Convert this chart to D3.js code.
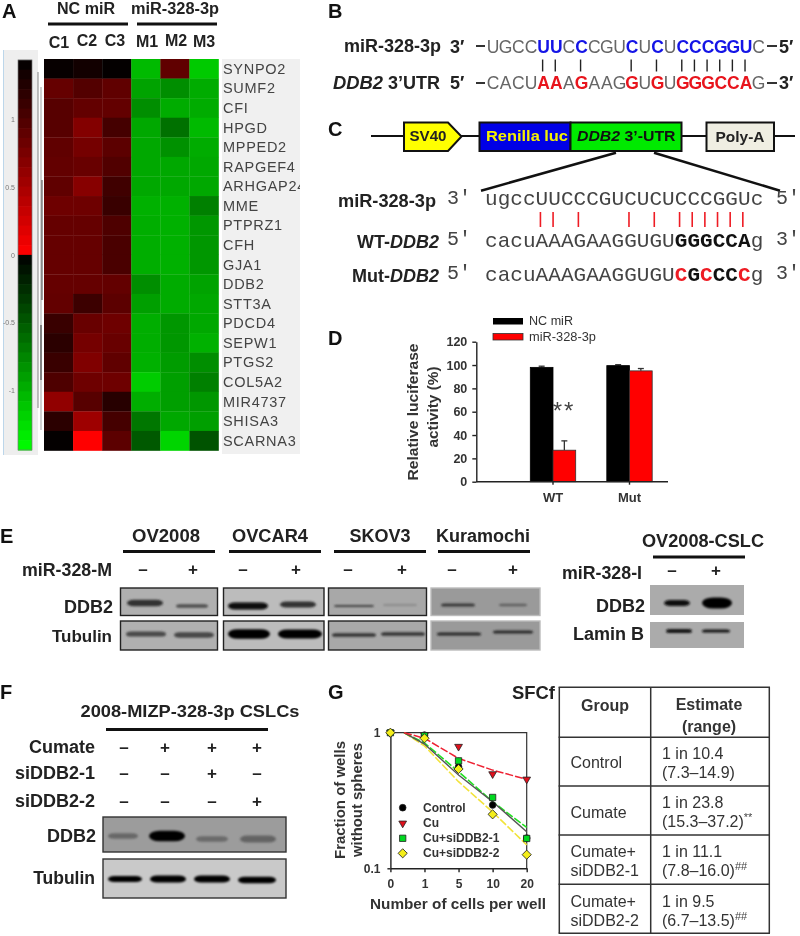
<!DOCTYPE html>
<html><head><meta charset="utf-8">
<style>html,body{margin:0;padding:0;background:#fff}svg{display:block;filter:blur(.45px)}text{font-family:"Liberation Sans",Arial,sans-serif}</style>
<script src="https://cdn.jsdelivr.net/npm/d3@7/dist/d3.min.js"></script>
</head><body>
<script>
// ---------- DATA ----------
const genes=["SYNPO2","SUMF2","CFI","HPGD","MPPED2","RAPGEF4","ARHGAP24","MME","PTPRZ1","CFH","GJA1","DDB2","STT3A","PDCD4","SEPW1","PTGS2","COL5A2","MIR4737","SHISA3","SCARNA3"];
const samples=["C1","C2","C3","M1","M2","M3"];
const heatC1=[1.4,.87,.95,.95,.9,.88,.9,.82,.87,.87,.87,.87,.88,1.12,1.2,1.12,1.0,.62,1.2,1.42];
const heatC2=[1.34,.97,.88,.7,.78,.85,.68,.82,.87,.87,.87,.87,1.1,.85,.78,.72,.82,.95,.55,0];
const heatC3=[1.42,.9,.88,1.05,.92,.98,1.08,1.12,1.0,1.02,1.02,.88,.92,.82,.85,.9,.82,1.22,1.05,.92];
const heatM1=[-1.05,-.92,-.8,-.95,-.95,-.95,-.95,-1.0,-.98,-.98,-.98,-.8,-.9,-.98,-.98,-1.0,-1.15,-.98,-.67,-.5];
const heatM2=[.9,-.8,-.97,-.64,-.82,-.95,-.95,-1.0,-1.0,-1.0,-1.0,-.97,-.97,-.85,-.85,-.88,-.9,-.9,-.95,-1.2];
const heatM3=[-1.14,-.97,-.97,-1.05,-.97,-.95,-.95,-.72,-.85,-.85,-.85,-.92,-.95,-.95,-1.0,-.8,-.72,-.85,-.9,-.47];
const heatTicks=[1,.5,0,-.5,-1];

const seqMirB="UGCCUUCCCGUCUCUCCCGGUC";
const seqUtrB="CACUAAAGAAGGUGUGGGCCAG";
const seqMirC="ugccUUCCCGUCUCUCCCGGUc";
const seqWtC ="cacuAAAGAAGGUGUGGGCCAg";
const seqMutC="cacuAAAGAAGGUGUCGCCCCg";
const pairedBases=[4,5,7,11,13,15,16,17,18,19,20];
const wtBold=[15,16,17,18,19,20];
const mutRed=[15,17,20];
const mutBold=[16,18,19];

const lucCats=["WT","Mut"];
const lucSeries=["NC miR","miR-328-3p"];
const lucNC=[98,99.5];
const lucMir=[27,95];
const lucNCErr=[1,.8];
const lucMirErr=[8,2];
const lucTicks=[0,20,40,60,80,100,120];

const cellLines=["OV2008","OVCAR4","SKOV3","Kuramochi"];
const mirMSigns=["–","+"];
const ddb2Bands=[[.72,.55],[.95,.72],[.62,.18],[.68,.45]];
const tubBands=[[.58,.6],[1,1],[.72,.72],[.8,.78]];
const cslcDDB2=[.95,1];
const cslcLamin=[.9,.9];

const fConds=["Cumate","siDDB2-1","siDDB2-2"];
const fCumate=["–","+","+","+"];
const fSi1=["–","–","+","–"];
const fSi2=["–","–","–","+"];
const fDDB2=[.4,1,.38,.42];
const fTub=[1,1,1,1];

const cellDose=["0","1","5","10","20"];
const doseIdx=[0,1,2,3,4];
const fitIdx=[.4,1,2,3,4];
const ctrlPts=[1,.96,.56,.293,.167];
const cuPts=[1,.96,.79,.496,.453];
const si1Pts=[1,.95,.62,.333,.166];
const si2Pts=[1,.91,.54,.25,.126];
const ctrlFit=[1,.825,.487,.31,.186];
const cuFit=[1,.91,.646,.53,.453];
const si1Fit=[1,.84,.516,.31,.2];
const si2Fit=[1,.8,.435,.26,.149];
const gLegend=["Control","Cu","Cu+siDDB2-1","Cu+siDDB2-2"];

const tblGroups=[["Control"],["Cumate"],["Cumate+","siDDB2-1"],["Cumate+","siDDB2-2"]];
const tblEst=["1 in 10.4","1 in 23.8","1 in 11.1","1 in 9.5"];
const tblRange=["(7.3–14.9)","(15.3–37.2)","(7.8–16.0)","(6.7–13.5)"];
const tblSup=["","**","##","##"];

// ---------- HELPERS ----------
const svg=d3.select("body").append("svg").attr("width",800).attr("height",936).attr("viewBox","0 0 800 936");
const defs=svg.append("defs");
defs.append("filter").attr("id","b08").attr("x","-30%").attr("y","-150%").attr("width","160%").attr("height","400%").append("feGaussianBlur").attr("stdDeviation",.9);
defs.append("clipPath").attr("id","geneClip").append("rect").attr("x",222).attr("y",55).attr("width",78).attr("height",400);
function T(x,y,s,o={}){
  const t=svg.append("text").attr("x",x).attr("y",y).attr("dominant-baseline","central")
    .attr("text-anchor",o.a||"start").attr("font-size",o.s||14).attr("font-weight",o.w||"bold")
    .attr("fill",o.c||"#222").attr("font-style",o.i||null).text(s);
  if(o.ls)t.attr("letter-spacing",o.ls);
  if(o.f)t.style("font-family",o.f);
  if(o.len)t.attr("textLength",o.len).attr("lengthAdjust","spacingAndGlyphs");
  if(o.r)t.attr("transform",`rotate(${o.r} ${x} ${y})`);
  return t;
}
function L(x1,y1,x2,y2,c="#111",w=2){svg.append("line").attr("x1",x1).attr("y1",y1).attr("x2",x2).attr("y2",y2).attr("stroke",c).attr("stroke-width",w);}
function label(x,y,s){T(x,y,s,{s:20,c:"#111"});}

// ---------- A: heatmap ----------
label(2,11,"A");
T(86,8,"NC miR",{a:"middle",s:16,len:58});T(175,8,"miR-328-3p",{a:"middle",s:16,len:88});
L(48,24,128,24,"#111",3);L(137,24,217,24,"#111",3);
const smpY=[42,40,40,41,40,41];
const smpLX=[59,87,115,147,176,204];
samples.forEach((s,i)=>T(smpLX[i],smpY[i],s,{a:"middle",s:16}));
const hx=d3.scaleBand().domain(samples).range([44,218.5]);
const hy=d3.scaleBand().domain(genes).range([59,450.5]);
const hBar=d3.scaleLinear().domain([1.44,-1.44]).range([60,450]);
const hRed=d3.scaleLinear().domain([0,1.44]).range(["#ff0000","#000000"]);
const hGreen=d3.scaleLinear().domain([-1.44,0]).range(["#00ff00","#000000"]);
const hColor=v=>v>=0?hRed(v):hGreen(v);
svg.append("rect").attr("x",4).attr("y",50).attr("width",34).attr("height",405).attr("fill","#eeeeee");
L(3.5,50,3.5,455,"#bcd6ea",1);
const barSteps=d3.range(0,40).map(i=>1.44-(i+.5)*2.88/40);
svg.append("g").selectAll("rect").data(barSteps).join("rect")
  .attr("x",18).attr("width",14).attr("y",d=>hBar(d)-5).attr("height",10.4).attr("fill",hColor);
svg.append("rect").attr("x",18).attr("y",60).attr("width",14).attr("height",390).attr("fill","none").attr("stroke","#777").attr("stroke-width",.7);
heatTicks.forEach(v=>T(15,hBar(v),String(v),{a:"end",s:7,w:"normal",c:"#777"}));
[[38,72,408,"#777"],[41,87,430,"#999"],[42,180,300,"#333"],[41,325,380,"#222"]].forEach(([x,a,b,c])=>L(x,a,x,b,c,.9));
svg.append("rect").attr("x",222).attr("y",59).attr("width",78).attr("height",395).attr("fill","#f0f0f0");
[heatC1,heatC2,heatC3,heatM1,heatM2,heatM3].forEach((col,j)=>{
  svg.append("g").selectAll("rect").data(col).join("rect")
   .attr("x",hx(samples[j])).attr("width",hx.bandwidth()+.3)
   .attr("y",(d,i)=>hy(genes[i])).attr("height",hy.bandwidth()+.3).attr("fill",hColor);
});
svg.append("g").attr("clip-path","url(#geneClip)").selectAll("text").data(genes).join("text")
  .attr("x",223).attr("y",g=>hy(g)+hy.bandwidth()/2).attr("dominant-baseline","central")
  .attr("font-size",14.5).attr("fill","#444").attr("letter-spacing",.7).text(g=>g);

// ---------- B ----------
label(328,11,"B");
const PITCH=12.65;
function seq(x0,y,str,styleFn,font,size){
  svg.append("g").selectAll("text").data(str.split("")).join("text")
   .attr("x",(d,i)=>x0+PITCH*(i+.5)).attr("y",y).attr("text-anchor","middle").attr("dominant-baseline","central")
   .attr("font-size",size).style("font-family",font)
   .each(function(d,i){const st=styleFn(i);d3.select(this).attr("fill",st[0]).attr("font-weight",st[1]);})
   .text(d=>d);
}
const SANS='"Liberation Sans"';
const MONO2='"Liberation Mono"';
T(441,46,"miR-328-3p",{a:"end",s:18,len:97});
T(450,47,"3′",{s:18,c:"#222"});L(476,46,485,46,"#333",2);
seq(486.7,47,seqMirB,i=>pairedBases.includes(i)?["#1414e6","bold"]:["#666","normal"],SANS,17.5);
L(767,46,777,46,"#333",2);T(779,47,"5′",{s:18,c:"#222"});
T(333,83,"DDB2",{s:18,i:"italic",len:50});T(388,83,"3’UTR",{s:18,len:52,w:"bold"});
T(450,83,"5′",{s:18});L(476,83,485,83,"#333",2);
seq(486.7,83,seqUtrB,i=>pairedBases.includes(i)?["#e8141c","bold"]:["#666","normal"],SANS,17.5);
L(767,83,777,83,"#333",2);T(779,83,"3′",{s:18});
pairedBases.forEach(i=>L(486.7+PITCH*(i+.5)-1,59.5,486.7+PITCH*(i+.5)-1,71.5,"#222",1.4));

// ---------- C ----------
label(328,129,"C");
L(371,136,795,136,"#111",2);
const pent=[[404,122.5],[448,122.5],[461.5,136.5],[448,151],[404,151]];
svg.append("polygon").attr("points",pent.join(" ")).attr("fill","#ffff00").attr("stroke","#111").attr("stroke-width",2);
T(428,136,"SV40",{a:"middle",s:14,c:"#222",len:37});
svg.append("rect").attr("x",479.5).attr("y",122.5).attr("width",91).attr("height",28.5).attr("fill","#0000e6").attr("stroke","#111").attr("stroke-width",2);
svg.append("rect").attr("x",570.5).attr("y",122.5).attr("width",111).attr("height",28.5).attr("fill","#00ea00").attr("stroke","#111").attr("stroke-width",2);
T(527,136,"Renilla luc",{a:"middle",s:14.5,c:"#f5f000",len:82});
T(577,136,"DDB2",{s:14.5,i:"italic",c:"#111",len:43});T(624.5,136,"3’-UTR",{s:14.5,c:"#111",len:51});
svg.append("rect").attr("x",706.5).attr("y",122.5).attr("width",67.5).attr("height",28.5).attr("fill","#efeee2").attr("stroke","#111").attr("stroke-width",2);
T(740,136,"Poly-A",{a:"middle",s:15,c:"#222",len:49});
L(616,152.7,481,190.7,"#111",2.5);L(654,152.7,780,190.7,"#111",2.5);
T(436,201,"miR-328-3p",{a:"end",s:18,len:98});
const MP={s:20,w:"normal",f:MONO2,c:"#444"};
T(447,198,"3'",MP);T(776,198,"5'",MP);
seq(485,199,seqMirC,()=>["#444","normal"],MONO2,21);
pairedBases.forEach(i=>L(485+PITCH*(i+.5)-1.5,212,485+PITCH*(i+.5)-1.5,227,"#ee1c24",1.6));
T(439,241.5,"WT-",{a:"end",s:18}).attr("dx",-49);T(439,241.5,"DDB2",{a:"end",s:18,i:"italic",len:49});
T(447,239,"5'",MP);T(776,239,"3'",MP);
seq(485,241,seqWtC,i=>wtBold.includes(i)?["#111","bold"]:["#444","normal"],MONO2,21);
T(439,276,"Mut-",{a:"end",s:18}).attr("dx",-49);T(439,276,"DDB2",{a:"end",s:18,i:"italic",len:49});
T(447,273,"5'",MP);T(776,273,"3'",MP);
seq(485,275,seqMutC,i=>mutRed.includes(i)?["#ee1c24","bold"]:mutBold.includes(i)?["#111","bold"]:["#444","normal"],MONO2,21);

// ---------- D: bars ----------
label(328,338,"D");
const dy=d3.scaleLinear().domain([0,120]).range([481.7,341.7]);
const dx=d3.scaleBand().domain(lucCats).range([514.75,667.75]);
const dInner=d3.scaleBand().domain(lucSeries).range([-22.7,22.7]);
const bw=dInner.bandwidth();
[[lucNC,lucNCErr,"#000","#000",lucSeries[0]],[lucMir,lucMirErr,"#ff0000","#333",lucSeries[1]]].forEach(([vals,errs,fill,st,name])=>{
  const cx=i=>dx(lucCats[i])+dx.bandwidth()/2+dInner(name);
  const g=svg.append("g");
  g.selectAll(".e").data(vals).join("line").attr("class","e").attr("x1",(d,i)=>cx(i)+bw/2).attr("x2",(d,i)=>cx(i)+bw/2)
    .attr("y1",d=>dy(d)).attr("y2",(d,i)=>dy(d+errs[i])).attr("stroke","#333").attr("stroke-width",1.3);
  g.selectAll(".c").data(vals).join("line").attr("class","c").attr("x1",(d,i)=>cx(i)+bw/2-3).attr("x2",(d,i)=>cx(i)+bw/2+3)
    .attr("y1",(d,i)=>dy(d+errs[i])).attr("y2",(d,i)=>dy(d+errs[i])).attr("stroke","#333").attr("stroke-width",1.3);
  g.selectAll("rect").data(vals).join("rect").attr("x",(d,i)=>cx(i)).attr("width",bw)
    .attr("y",d=>dy(d)).attr("height",d=>dy(0)-dy(d)).attr("fill",fill).attr("stroke",st).attr("stroke-width",.8);
});
const dAxL=svg.append("g").attr("transform","translate(476.3,0)").call(d3.axisLeft(dy).tickValues(lucTicks).tickSize(4).tickPadding(5).tickSizeOuter(0));
dAxL.selectAll("text").attr("font-size",12.5).attr("font-weight","bold").attr("fill","#333").style("font-family",SANS);
const dAxB=svg.append("g").attr("transform","translate(0,481.7)").call(d3.axisBottom(dx).tickSize(3).tickSizeOuter(0));
dAxB.select("path").attr("d","M476.3,0H668");
dAxB.selectAll("text").attr("font-size",13).attr("font-weight","bold").attr("fill","#333").attr("y",11).style("font-family",SANS);
[dAxL,dAxB].forEach(a=>a.selectAll("path,line").attr("stroke","#222").attr("stroke-width",1.4));
T(412,412,"Relative luciferase",{a:"middle",s:15.5,r:-90,c:"#333",len:137});
T(432,407,"activity (%)",{a:"middle",s:15.5,r:-90,c:"#333",len:81});
T(564,410,"**",{a:"middle",s:24,c:"#444",w:"normal",ls:2});
svg.append("rect").attr("x",493).attr("y",318).attr("width",30).attr("height",6.5).attr("fill","#000");
svg.append("rect").attr("x",493).attr("y",333.5).attr("width",30).attr("height",6.5).attr("fill","#ff0000").attr("stroke","#333").attr("stroke-width",.8);
T(529,321,lucSeries[0],{s:12,w:"normal",c:"#333",len:44});T(529,337,lucSeries[1],{s:12,w:"normal",c:"#333",len:67});

// ---------- E: blots ----------
function panel(x,y,w,h,fill,stroke){svg.append("rect").attr("x",x).attr("y",y).attr("width",w).attr("height",h).attr("fill",fill).attr("stroke",stroke).attr("stroke-width",stroke?1.4:0);}
const bandK=d3.scaleLinear().domain([0,1]).range(["#a8a8a8","#050505"]);
function band(cx,cy,hw,hh,v){
  svg.append("rect").attr("x",cx-hw).attr("y",cy-hh).attr("width",2*hw).attr("height",2*hh).attr("rx",Math.min(hw,hh*2)).attr("ry",hh)
   .attr("fill",bandK(v)).attr("filter","url(#b08)");
}
label(0,536,"E");
const eLines=[[123,215,166],[229,321,270],[334,426,380],[438,530,483]];
cellLines.forEach((c,i)=>{T(eLines[i][2],536,c,{a:"middle",s:18,c:"#222",len:[68,76,61,94][i]});L(eLines[i][0],551.5,eLines[i][1],551.5,"#111",2.8);});
T(703,541,"OV2008-CSLC",{a:"middle",s:18,c:"#222",len:122});L(653,557,745,557,"#111",2.8);
T(112,569.5,"miR-328-M",{a:"end",s:17.5,len:90});T(642,573,"miR-328-I",{a:"end",s:18,len:80});
[[143,193],[243,296],[348,402],[452,513]].forEach(p=>p.forEach((x,i)=>T(x,569.5,mirMSigns[i],{a:"middle",s:17})));
[672,716].forEach((x,i)=>T(x,570,mirMSigns[i],{a:"middle",s:17}));
T(113,607,"DDB2",{a:"end",s:18,c:"#222"});T(112,636,"Tubulin",{a:"end",s:17,c:"#222"});
T(645,606,"DDB2",{a:"end",s:18,c:"#222"});T(644,634,"Lamin B",{a:"end",s:18,c:"#222"});
const eP=[[120.5,97,"#b0b0b0","#222"],[223.5,100.5,"#bcbcbc","#222"],[328.5,98,"#a8a8a8","#222"],[431,109,"#9a9a9a","#bbb"]];
const ddbLay=[[[145,603,18,3.2],[192,606,16,1.8]],[[248,606,20,3.4],[298,604.5,18,3]],[[354,606,20,1.1],[400,605,17,1]],[[458,605,17,1.6],[513,605,14,1.3]]];
const tubLay=[[[146,634,20,2.6],[194,635,20,2.8]],[[249,634,21,4.8],[300,634,22,4.6]],[[354,635,22,1.8],[403,634,22,1.8]],[[459,634,22,1.5],[513,632,20,1.5]]];
eP.forEach((p,i)=>{
  panel(p[0],588,p[1],27.5,p[2],p[3]);panel(p[0],621,p[1],29,p[2],p[3]);
  ddb2Bands[i].forEach((v,j)=>{const l=ddbLay[i][j];band(l[0],l[1],l[2],l[3],v);});
  tubBands[i].forEach((v,j)=>{const l=tubLay[i][j];band(l[0],l[1],l[2],l[3],v);});
});
panel(650,585,94,30,"#ababab",null);panel(650,622,94,26,"#ababab",null);
cslcDDB2.forEach((v,j)=>band([677,717][j],603,[13,15][j],[3,5.5][j],v));
cslcLamin.forEach((v,j)=>band([679,716][j],631,[13,14][j],[2,1.6][j],v));

// ---------- F ----------
label(0,692,"F");
T(190,711.5,"2008-MIZP-328-3p CSLCs",{a:"middle",s:17,c:"#222",len:219});
L(106,729.5,268,729.5,"#111",3);
const fX=[124,165,212,257];
const fRowY=[747,773,801];
fConds.forEach((c,i)=>T(95,fRowY[i],c,{a:"end",s:18,c:"#222"}));
[fCumate,fSi1,fSi2].forEach((row,r)=>row.forEach((s,i)=>T(fX[i],fRowY[r],s,{a:"middle",s:17})));
panel(103,817,183,35,"#9c9c9c","#333");panel(103,859,183,39,"#c9c9c9","#333");
T(96,836,"DDB2",{a:"end",s:18,c:"#222"});T(95,878,"Tubulin",{a:"end",s:17.5,c:"#222"});
const fDLay=[[123,836,15,2.8],[167,836,18,5.2],[212,839,16,2.8],[258,839,18,3.6]];
const fTLay=[[125,879,17,3],[168,879,18,3.6],[212,879,18,3.6],[257,880,19,3.2]];
fDDB2.forEach((v,i)=>band(...fDLay[i],v));
fTub.forEach((v,i)=>band(...fTLay[i],v));

// ---------- G: limiting dilution ----------
label(328,692,"G");
const gx=d3.scaleLinear().domain([0,4]).range([390.4,526.7]);
const gy=d3.scaleLog().domain([.1,1]).range([868.3,732.7]);
svg.append("path").attr("d",`M${gx(0)},${gy(1)}H${gx(4)}V${gy(.1)}`).attr("fill","none").attr("stroke","#333").attr("stroke-width",1.2);
const lineG=d3.line().x((d,i)=>gx(fitIdx[i])).y(d=>gy(d));
svg.append("path").attr("d",lineG(si2Fit)).attr("fill","none").attr("stroke","#f2e33a").attr("stroke-width",1.6).attr("stroke-dasharray","8 2");
svg.append("path").attr("d",lineG(si1Fit)).attr("fill","none").attr("stroke","#22e022").attr("stroke-width",1.6).attr("stroke-dasharray","8 2");
svg.append("path").attr("d",lineG(ctrlFit)).attr("fill","none").attr("stroke","#555").attr("stroke-width",1.4);
svg.append("path").attr("d",lineG(cuFit)).attr("fill","none").attr("stroke","#ee2233").attr("stroke-width",1.5).attr("stroke-dasharray","8 2");
const gAxB=svg.append("g").attr("transform",`translate(0,${gy(.1)})`).call(d3.axisBottom(gx).tickValues(doseIdx).tickFormat(i=>cellDose[i]).tickSize(4).tickSizeOuter(0));
gAxB.selectAll("text").attr("font-size",12).attr("font-weight","bold").attr("fill","#333").attr("y",11).style("font-family",SANS);
const gAxL=svg.append("g").attr("transform",`translate(${gx(0)},0)`).call(d3.axisLeft(gy).tickValues([.1,1]).tickFormat(d=>String(d)).tickSize(3).tickPadding(7).tickSizeOuter(0));
gAxL.selectAll("text").attr("font-size",12).attr("font-weight","bold").attr("fill","#333").style("font-family",SANS);
[gAxB,gAxL].forEach(a=>a.selectAll("path,line").attr("stroke","#222").attr("stroke-width",1.4));
const symb=(type,size)=>d3.symbol().type(type).size(size)();
const gSeries=[[ctrlPts,d3.symbolCircle,"#000","",35],[cuPts,d3.symbolTriangle,"#e0101c"," rotate(180)",26],[si1Pts,d3.symbolSquare,"#00d820","",40],[si2Pts,d3.symbolSquare,"#f4ee1a"," rotate(45)",42]];
gSeries.forEach(([pts,ty,fill,rot,size])=>{
  svg.append("g").selectAll("path").data(pts).join("path").attr("d",symb(ty,size))
   .attr("transform",(d,i)=>`translate(${gx(doseIdx[i])},${gy(d)})${rot}`)
   .attr("fill",fill).attr("stroke","#222").attr("stroke-width",.8);
});
const legY=[807.7,823.3,838.3,853.3];
gSeries.forEach(([pts,ty,fill,rot,size],i)=>{
  svg.append("path").attr("d",symb(ty,size)).attr("transform",`translate(402.7,${legY[i]})${rot}`).attr("fill",fill).attr("stroke","#222").attr("stroke-width",.8);
  T(423,legY[i],gLegend[i],{s:12,c:"#333"});
});
T(458,903.5,"Number of cells per well",{a:"middle",s:14,c:"#333",len:176});
T(340,800,"Fraction of wells",{a:"middle",s:14.5,r:-90,c:"#333",len:118});
T(357,800,"without spheres",{a:"middle",s:14.5,r:-90,c:"#333",len:114});

// ---------- Table ----------
T(555,693,"SFCf",{a:"end",s:18,c:"#222",len:43});
const tX=[559.3,650.7,769.3],tY=[687.3,737.3,786,835,884.3,933.3];
tY.forEach(y=>L(tX[0]-.7,y,tX[2]+.7,y,"#333",1.5));
tX.forEach(x=>L(x,tY[0],x,tY[5],"#333",1.5));
T(605,705,"Group",{a:"middle",s:16,c:"#333"});
T(709,704,"Estimate",{a:"middle",s:16,c:"#333"});
T(709,726,"(range)",{a:"middle",s:16,c:"#333"});
const rowC=[762,812,860.5,910.5],rowE=[753,802,851,901],rowR=[772.7,821,870,920];
tblGroups.forEach((g,i)=>{
  g.forEach((s,k)=>T(570.5,g.length==1?rowC[i]:rowE[i]+(rowR[i]-rowE[i])*k,s,{s:16,w:"normal",c:"#333"}));
  T(662,rowE[i],tblEst[i],{s:16,w:"normal",c:"#333"});
  const r=T(662,rowR[i],tblRange[i],{s:16,w:"normal",c:"#333"});
  const rw=r.node().getComputedTextLength();
  if(tblSup[i])T(662+rw,rowR[i]-4,tblSup[i],{s:11,w:"normal",c:"#444"});
});
</script>
</body></html>
